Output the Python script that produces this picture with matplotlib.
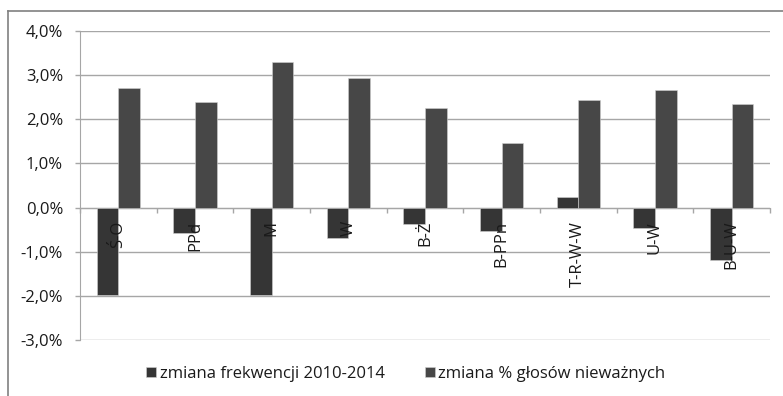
import numpy as np
import matplotlib.pyplot as plt
from matplotlib.ticker import FuncFormatter, FixedLocator, NullFormatter
from matplotlib.lines import Line2D
from matplotlib.transforms import offset_copy

plt.rcParams['font.family'] = ['Open Sans', 'DejaVu Sans']

okregi = ['Ś-O', 'PPd', 'M', 'W', 'B-Ż', 'B-PPn', 'T-R-W-W', 'U-W', 'B-U-W']
frekwencja = [-1.97, -0.58, -1.97, -0.69, -0.37, -0.53, 0.25, -0.47, -1.18]
niewazne = [2.72, 2.40, 3.29, 2.93, 2.25, 1.46, 2.44, 2.66, 2.34]

c_frek = '#353535'
c_niew = '#474747'
c_grid = '#a6a6a6'
c_txt = '#1a1a1a'
fs = 12

fig = plt.figure(figsize=(7.83, 3.96), dpi=100)
ax = fig.add_axes([80/783, 1-340/396, 690/783, 309/396])

x = np.arange(len(okregi))
w = 0.283
ax.bar(x - w/2, frekwencja, w, color=c_frek, edgecolor='#d0d0d0', linewidth=0.4,
       label='zmiana frekwencji 2010-2014', zorder=3)
ax.bar(x + w/2, niewazne, w, color=c_niew, edgecolor='#d0d0d0', linewidth=0.4,
       label='zmiana % głosów nieważnych', zorder=3)

ax.set_xlim(-0.5, len(okregi) - 0.5)
ax.set_ylim(-3, 4)
ax.set_yticks(np.arange(-3, 4.1, 1))
ax.yaxis.set_major_formatter(FuncFormatter(lambda v, p: f'{v:.1f}%'.replace('.', ',')))
ax.yaxis.grid(True, color=c_grid, linewidth=1.0, zorder=0)
ax.tick_params(axis='y', length=3.6, width=1, color=c_grid, pad=8.6, labelsize=fs,
               labelcolor=c_txt)

# os X na poziomie zera: kreski miedzy kategoriami
ax.spines['bottom'].set_position(('data', 0))
ax.spines['bottom'].set_color(c_grid)
ax.spines['left'].set_color(c_grid)
for s in ['top', 'right']:
    ax.spines[s].set_visible(False)
ax.xaxis.set_major_locator(FixedLocator(np.arange(-0.5, len(okregi), 1)))
ax.xaxis.set_major_formatter(NullFormatter())
ax.tick_params(axis='x', which='major', length=3.6, width=1, color=c_grid)

# etykiety kategorii nad slupkami, pod linia zera
tr = offset_copy(ax.transData, fig=fig, x=0, y=-9.5, units='points')
for xi, name in zip(x, okregi):
    ax.text(xi, 0, name, transform=tr, rotation=90, ha='center', va='top',
            fontsize=fs, color=c_txt, zorder=5)

# ramka wykresu
fig.add_artist(Line2D([8/783, 1], [1-11/396, 1-11/396], color='#808080', linewidth=1.2))
fig.add_artist(Line2D([8/783, 8/783], [0, 1-11/396], color='#808080', linewidth=1.2))

fig.legend(loc='center', bbox_to_anchor=(0.518, 1-374/396), ncol=2, frameon=False,
           fontsize=fs, handlelength=0.6, handleheight=0.6, handletextpad=0.2,
           columnspacing=2.4, labelcolor=c_txt)

fig.savefig('out.png', dpi=100)
